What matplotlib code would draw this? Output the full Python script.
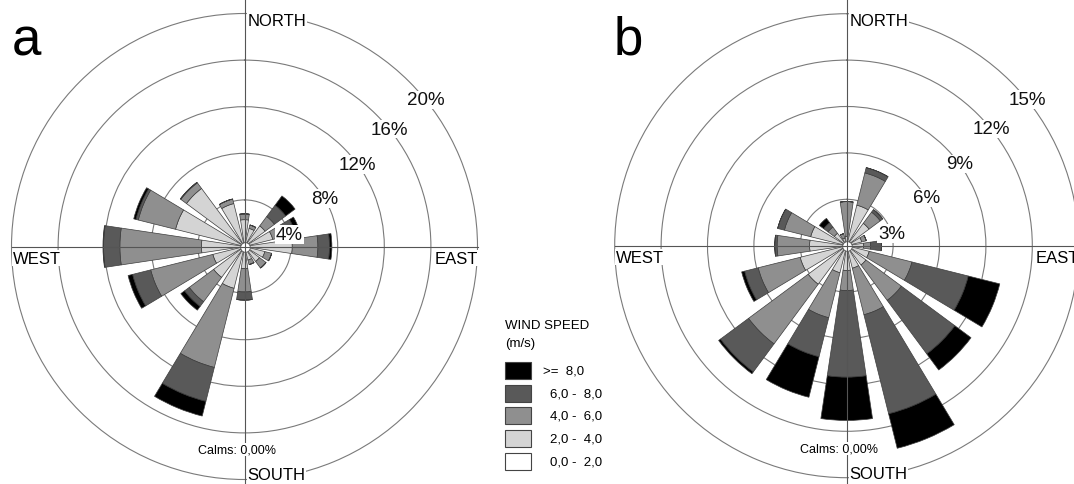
import numpy as np
import matplotlib
matplotlib.use("Agg")
import matplotlib.pyplot as plt
from matplotlib.patches import Rectangle
from matplotlib.lines import Line2D

plt.rcParams['font.family'] = ['Liberation Sans', 'DejaVu Sans']

# ---------------- data ----------------
directions = ['N', 'NNE', 'NE', 'ENE', 'E', 'ESE', 'SE', 'SSE',
              'S', 'SSW', 'SW', 'WSW', 'W', 'WNW', 'NW', 'NNW']
speed_labels = ['0,0 -  2,0', '2,0 -  4,0', '4,0 -  6,0', '6,0 -  8,0', '>=  8,0']
speed_colors = ['#ffffff', '#d4d4d4', '#8f8f8f', '#595959', '#000000']

# panel a: frequency (%) per direction for each speed class
a_0_2 = [0.2] * 16
a_2_4 = [2.1, 1.4, 2.0, 2.3, 3.9, 1.6, 1.4, 1.0, 1.7, 3.5, 3.1, 2.6, 3.5, 5.9, 6.0, 3.6]
a_4_6 = [0.5, 0.3, 1.0, 1.1, 2.2, 0.6, 0.7, 0.4, 2.0, 7.0, 2.6, 5.5, 7.0, 3.3, 0.6, 0.4]
a_6_8 = [0.0, 0.0, 1.2, 0.9, 1.0, 0.0, 0.0, 0.0, 0.7, 3.0, 0.5, 1.6, 1.4, 0.2, 0.05, 0.0]
a_8p = [0.0, 0.0, 1.0, 0.4, 0.2, 0.0, 0.0, 0.0, 0.0, 1.3, 0.4, 0.4, 0.05, 0.2, 0.0, 0.0]

# panel b
b_0_2 = [0.2] * 16
b_2_4 = [0.4, 2.5, 1.6, 0.8, 0.9, 1.3, 1.35, 1.3, 1.4, 1.6, 2.9, 2.9, 2.2, 2.2, 0.8, 0.3]
b_4_6 = [2.25, 2.15, 0.9, 0.3, 0.45, 2.85, 2.85, 3.1, 1.3, 3.0, 4.8, 2.8, 2.1, 1.75, 0.5, 0.3]
b_6_8 = [0.0, 0.35, 0.2, 0.0, 0.7, 3.75, 4.3, 6.6, 5.6, 2.6, 2.25, 0.9, 0.15, 0.45, 0.35, 0.0]
b_8p = [0.0, 0.0, 0.0, 0.0, 0.0, 2.1, 1.3, 2.3, 2.8, 2.7, 0.15, 0.2, 0.0, 0.0, 0.35, 0.0]

a_ticks = [4, 8, 12, 16, 20]
b_ticks = [3, 6, 9, 12, 15]
panel_letters = ['a', 'b']
calms_text = 'Calms: 0,00%'

# ---------------- layout ----------------
W, H = 1074, 485
fig = plt.figure(figsize=(W / 100, H / 100), dpi=100)
fig.patch.set_facecolor('white')


def fx(x):
    return x / W


def fy(y):
    return 1 - y / H


def make_panel(cx, cy, R, classes, ticks, letter, label_angles):
    ax = fig.add_axes([fx(cx - R), fy(cy + R), 2 * R / W, 2 * R / H], projection='polar')
    ax.set_theta_zero_location('N')
    ax.set_theta_direction(-1)
    rmax = ticks[-1]
    ax.set_ylim(0, rmax)
    theta = np.deg2rad(np.arange(16) * 22.5)
    width = np.deg2rad(17)
    bottom = np.zeros(16)
    for vals, col in zip(classes, speed_colors):
        v = np.array(vals, dtype=float)
        ax.bar(theta, v, width=width, bottom=bottom, color=col,
               edgecolor='#3c3c3c', linewidth=0.5, zorder=3)
        bottom += v
    ax.set_rgrids(ticks[:-1], labels=[''] * (len(ticks) - 1))
    ax.set_thetagrids([], labels=[])
    ax.yaxis.grid(True, color='#7a7a7a', linewidth=0.8)
    ax.xaxis.grid(False)
    ax.spines['polar'].set_color('#7a7a7a')
    ax.spines['polar'].set_linewidth(0.8)
    ax.set_axisbelow(True)
    # centre hole
    ax.scatter([0], [0], s=48, c='white', edgecolors='#555555', linewidths=0.6, zorder=5)
    # percentage labels
    for t, ang in zip(ticks, label_angles):
        ax.text(np.deg2rad(ang), t, f'{t}%', ha='center', va='center', fontsize=13.5,
                color='#111111', zorder=6,
                bbox=dict(facecolor='white', edgecolor='none', pad=0.6))
    # cross lines
    fig.add_artist(Line2D([fx(cx), fx(cx)], [fy(0), fy(H)], color='#555555', lw=0.8, zorder=0.5))
    fig.add_artist(Line2D([fx(cx - R), fx(cx + R)], [fy(cy), fy(cy)], color='#555555', lw=0.8, zorder=0.5))
    # compass labels
    fs = 12
    fig.text(fx(cx + 3), fy(cy - R - 1), 'NORTH', ha='left', va='top', fontsize=fs,
             bbox=dict(facecolor='white', edgecolor='none', pad=0.5), zorder=10)
    fig.text(fx(cx + 3), fy(cy + R + 3), 'SOUTH', ha='left', va='bottom', fontsize=fs,
             bbox=dict(facecolor='white', edgecolor='none', pad=0.5), zorder=10)
    fig.text(fx(cx - R + 1), fy(cy + 4), 'WEST', ha='left', va='top', fontsize=fs,
             bbox=dict(facecolor='white', edgecolor='none', pad=0.5), zorder=10)
    fig.text(fx(cx + R), fy(cy + 4), 'EAST', ha='right', va='top', fontsize=fs,
             bbox=dict(facecolor='white', edgecolor='none', pad=0.5), zorder=10)
    fig.text(fx(cx - 8), fy(cy + 203), calms_text, ha='center', va='center', fontsize=9,
             bbox=dict(facecolor='white', edgecolor='none', pad=0.5), zorder=10)
    fig.text(fx(cx - 233), fy(cy - 206), letter, ha='left', va='center', fontsize=38, zorder=10)
    return ax


label_angles = [75, 59, 54, 51, 51]
make_panel(244.5, 247.5, 233, [a_0_2, a_2_4, a_4_6, a_6_8, a_8p], a_ticks, panel_letters[0], label_angles)
make_panel(846.7, 246.7, 232, [b_0_2, b_2_4, b_4_6, b_6_8, b_8p], b_ticks, panel_letters[1], label_angles)

# ---------------- legend ----------------
fig.text(fx(505), fy(326), 'WIND SPEED', ha='left', va='center', fontsize=9.5)
fig.text(fx(505), fy(344), '(m/s)', ha='left', va='center', fontsize=9.5)
box_tops = [363, 386, 408, 431, 454]
for i, (lab, col) in enumerate(zip(speed_labels[::-1], speed_colors[::-1])):
    top = box_tops[i]
    fig.add_artist(Rectangle((fx(505), fy(top + 17)), 26 / W, 17 / H,
                             facecolor=col, edgecolor='#444444', lw=0.8))
    xoff = 543 if lab.startswith('>') else 550
    fig.text(fx(xoff), fy(top + 8.5), lab, ha='left', va='center', fontsize=9.5)

fig.savefig('out.png', dpi=100)
